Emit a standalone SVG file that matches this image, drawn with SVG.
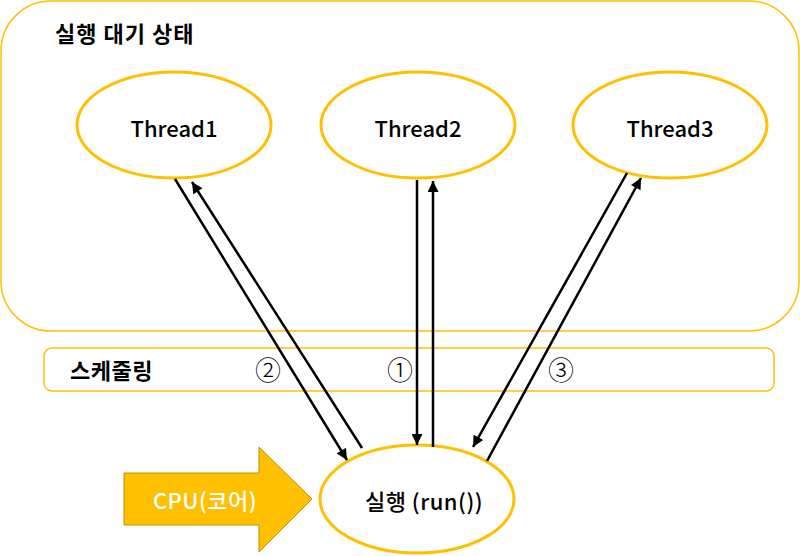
<svg xmlns="http://www.w3.org/2000/svg" width="800" height="556" viewBox="0 0 800 556">
<style>
.frame{fill:#fff;stroke:#FFC000;stroke-width:1.5}
.node{fill:#fff;stroke:#FFC000;stroke-width:3}
.lbl{font-family:"Noto Sans CJK KR","Noto Sans",sans-serif;font-size:22px;font-weight:500;fill:#000;text-anchor:middle;dominant-baseline:central}
.title{font-family:"Noto Sans CJK KR","Noto Sans",sans-serif;font-size:22px;font-weight:bold;fill:#000}
.num{font-family:"DejaVu Sans","Noto Sans CJK KR",sans-serif;font-size:26px;font-weight:300;fill:#000;text-anchor:middle;dominant-baseline:central}
.conn line{stroke:#000;stroke-width:2.5;marker-end:url(#ah)}
</style>
<defs>
<marker id="ah" viewBox="0 0 10 10" refX="10" refY="5" markerWidth="5" markerHeight="4.4" markerUnits="strokeWidth" orient="auto">
<path d="M0,0 L10,5 L0,10 Z" fill="#000"/>
</marker>
</defs>
<rect width="800" height="556" fill="#fff"/>
<g id="waiting-area">
<rect class="frame" x="1" y="1" width="798" height="330" rx="50" ry="50"/>
<text class="title" x="55" y="42" letter-spacing="1">실행 대기 상태</text>
</g>
<g id="scheduling">
<rect class="frame" x="44" y="348" width="730" height="43" rx="8" ry="8"/>
<text class="title" x="70" y="379" font-size="22" letter-spacing="0.5">스케줄링</text>
</g>
<g id="thread1">
<ellipse class="node" cx="174" cy="125" rx="97" ry="53"/>
<text class="lbl" x="174" y="127">Thread1</text>
</g>
<g id="thread2">
<ellipse class="node" cx="418" cy="125" rx="97" ry="53"/>
<text class="lbl" x="418" y="127">Thread2</text>
</g>
<g id="thread3">
<ellipse class="node" cx="670" cy="125" rx="97" ry="53"/>
<text class="lbl" x="670" y="127">Thread3</text>
</g>
<g id="running">
<ellipse class="node" cx="417" cy="499" rx="97" ry="54"/>
<text class="lbl" x="424" y="500" font-weight="bold" letter-spacing="0.5">실행 (run())</text>
</g>
<g id="cpu">
<path d="M124,473 L259,473 L259,447 L312,499 L259,552 L259,525 L124,525 Z" fill="#FFC000" stroke="#BF9000" stroke-width="1"/>
<text class="lbl" x="205" y="499" style="fill:#fff" letter-spacing="0.5">CPU(코어)</text>
</g>
<g id="connectors" class="conn">
<line x1="175" y1="179" x2="347" y2="460"/>
<line x1="362" y1="448" x2="192" y2="182"/>
<line x1="417" y1="180" x2="417" y2="445"/>
<line x1="433" y1="447" x2="433" y2="181"/>
<line x1="627" y1="173" x2="473" y2="447"/>
<line x1="487" y1="461" x2="641" y2="178"/>
</g>
<g id="order-labels">
<text class="num" x="268" y="371">②</text>
<text class="num" x="400" y="371">①</text>
<text class="num" x="561" y="371">③</text>
</g>
</svg>
